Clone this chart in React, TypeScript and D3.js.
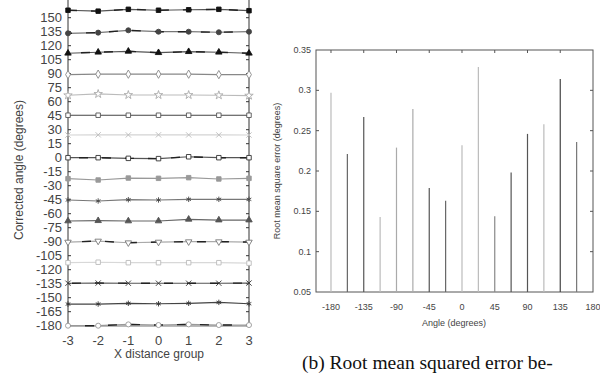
import React, { useEffect, useRef } from 'react'
import * as d3 from 'd3'

// left panel: corrected angle per x distance group, one line per true angle
const xGroups = [-3, -2, -1, 0, 1, 2, 3]
const trueAngles = [157.5, 135, 112.5, 90, 67.5, 45, 22.5, 0, -22.5, -45, -67.5, -90, -112.5, -135, -157.5, -180]
const correctedValues = [
  [158, 157, 159, 158, 158.5, 159, 157.5],
  [133.3, 134, 136.5, 135, 135, 134.4, 135],
  [111.9, 113, 114, 112.5, 113.6, 113, 111.9],
  [89, 89.5, 89.5, 89.5, 89.5, 89, 89],
  [66.9, 68.3, 67.2, 67.2, 67.2, 66.9, 66.5],
  [45.5, 45.5, 45.5, 45.5, 45.5, 45.5, 45.5],
  [24.3, 24.5, 24.4, 24.5, 24.4, 24.4, 24.3],
  [0, 0, -0.7, -1, 1, 0, 0],
  [-22.5, -23.9, -21.8, -22.1, -21.4, -22.8, -22.1],
  [-45.3, -46.4, -45, -45.3, -44.6, -44.6, -44.6],
  [-67.8, -67.5, -67.8, -67.8, -66, -66.8, -66.8],
  [-90.4, -89.3, -91.1, -90.4, -90, -90, -90.4],
  [-112.5, -112, -112.5, -112.5, -112.5, -112.5, -113],
  [-134.5, -134.3, -134.5, -134.5, -134.5, -134.5, -134.3],
  [-156.8, -156.8, -156, -156.5, -156, -155, -156.5],
  [-180, -180, -178.6, -179.3, -178.6, -179.3, -179.3],
]
const leftTicks = d3.range(-180, 151, 15)

// right panel: rmse per angle
const rmseAngles = [-180, -157.5, -135, -112.5, -90, -67.5, -45, -22.5, 0, 22.5, 45, 67.5, 90, 112.5, 135, 157.5]
const rmseValues = [0.297, 0.221, 0.267, 0.143, 0.229, 0.277, 0.179, 0.163, 0.232, 0.329, 0.144, 0.198, 0.246, 0.258, 0.314, 0.236]
const angleTicks = [-180, -135, -90, -45, 0, 45, 90, 135, 180]
const rmseTicks = [0.05, 0.1, 0.15, 0.2, 0.25, 0.3, 0.35]

// marker look for each series (shape, filled?, colour, line colour, dark dashes on top?)
const markers = [
  { shape: d3.symbolSquare, fill: true, color: '#111', line: '#555', dash: true },
  { shape: d3.symbolCircle, fill: true, color: '#444', line: '#777', dash: true },
  { shape: d3.symbolTriangle, fill: true, color: '#111', line: '#555', dash: true },
  { shape: d3.symbolDiamond, fill: false, color: '#888', line: '#888', dash: false },
  { shape: d3.symbolStar, fill: false, color: '#aaa', line: '#bbb', dash: false },
  { shape: d3.symbolSquare, fill: false, color: '#555', line: '#444', dash: false },
  { shape: d3.symbolTimes, fill: false, color: '#bbb', line: '#d4d4d4', dash: false },
  { shape: d3.symbolSquare, fill: false, color: '#333', line: '#555', dash: true },
  { shape: d3.symbolSquare, fill: true, color: '#999', line: '#999', dash: false },
  { shape: d3.symbolAsterisk, fill: false, color: '#444', line: '#777', dash: false },
  { shape: d3.symbolTriangle, fill: true, color: '#555', line: '#666', dash: false },
  { shape: d3.symbolTriangle, fill: false, color: '#777', line: '#aaa', dash: true, flip: true },
  { shape: d3.symbolSquare, fill: false, color: '#bbb', line: '#d8d8d8', dash: false },
  { shape: d3.symbolTimes, fill: false, color: '#333', line: '#555', dash: true },
  { shape: d3.symbolAsterisk, fill: false, color: '#333', line: '#444', dash: false },
  { shape: d3.symbolCircle, fill: false, color: '#999', line: '#999', dash: true },
]
const barColors = ['#bbb', '#666', '#555', '#bbb', '#aaa', '#aaa', '#555', '#666', '#bbb', '#bbb', '#888', '#555', '#555', '#bbb', '#444', '#777']

const font = 'Liberation Sans, Arial, sans-serif'
const textColor = '#444'

export default function App() {
  const ref = useRef<SVGSVGElement>(null)

  useEffect(() => {
    const svg = d3.select(ref.current)
    svg.selectAll('*').remove()

    // ---------- left chart ----------
    const xL = d3.scaleLinear().domain([-3, 3]).range([68, 249])
    const yL = d3.scaleLinear().domain([-180, 150]).range([325.7, 17.7])
    const left = svg.append('g')

    // axes frame
    left.append('line').attr('x1', 68).attr('x2', 68).attr('y1', 0).attr('y2', 326).attr('stroke', '#333')
    left.append('line').attr('x1', 249).attr('x2', 249).attr('y1', 0).attr('y2', 326).attr('stroke', '#333')
    left.append('line').attr('x1', 68).attr('x2', 249).attr('y1', 326).attr('y2', 326).attr('stroke', '#777')

    left.selectAll('.ltick')
      .data(leftTicks).enter().append('line')
      .attr('x1', 68).attr('x2', 71)
      .attr('y1', d => yL(d)).attr('y2', d => yL(d))
      .attr('stroke', '#333')
    left.selectAll('.rtick')
      .data(leftTicks).enter().append('line')
      .attr('x1', 246).attr('x2', 249)
      .attr('y1', d => yL(d)).attr('y2', d => yL(d))
      .attr('stroke', '#333')

    left.selectAll('.ylab')
      .data(leftTicks).enter().append('text')
      .attr('x', 62).attr('y', d => yL(d)).attr('dy', '0.36em')
      .attr('text-anchor', 'end')
      .attr('font-size', 13).attr('font-family', font).attr('fill', textColor)
      .text(d => d)

    left.selectAll('.xlab')
      .data(xGroups).enter().append('text')
      .attr('x', d => xL(d)).attr('y', 345)
      .attr('text-anchor', 'middle')
      .attr('font-size', 13).attr('font-family', font).attr('fill', textColor)
      .text(d => d)

    left.append('text')
      .attr('x', 159).attr('y', 358)
      .attr('text-anchor', 'middle')
      .attr('font-size', 12).attr('font-family', font).attr('fill', textColor)
      .text('X distance group')

    left.append('text')
      .attr('transform', 'translate(23,170) rotate(-90)')
      .attr('text-anchor', 'middle')
      .attr('font-size', 12).attr('font-family', font).attr('fill', textColor)
      .text('Corrected angle (degrees)')

    const line = d3.line<number>()
      .x((d, i) => xL(xGroups[i]))
      .y(d => yL(d))

    correctedValues.forEach((vals, si) => {
      const m: any = markers[si]
      const g = left.append('g').attr('class', 'series-' + trueAngles[si])
      g.append('path').attr('d', line(vals))
        .attr('fill', 'none').attr('stroke', m.line).attr('stroke-width', 1.2)
      if (m.dash) {
        g.append('path').attr('d', line(vals))
          .attr('fill', 'none').attr('stroke', '#222').attr('stroke-width', 1.4)
          .attr('stroke-dasharray', '9,14').attr('stroke-dashoffset', si * 5)
      }
      const size = m.shape === d3.symbolTriangle ? 18 : m.shape === d3.symbolStar ? 22 : 20
      const sym = d3.symbol().type(m.shape).size(size)
      g.selectAll('path.pt')
        .data(vals).enter().append('path')
        .attr('class', 'pt')
        .attr('transform', (d, i) => `translate(${xL(xGroups[i])},${yL(d)})${m.flip ? ' rotate(180)' : ''}`)
        .attr('d', sym())
        .attr('fill', m.fill ? m.color : '#fff')
        .attr('stroke', m.color)
        .attr('stroke-width', 0.9)
    })

    // ---------- right chart ----------
    const xR = d3.scaleLinear().domain([-200.6, 180]).range([316, 593])
    const yR = d3.scaleLinear().domain([0.05, 0.35]).range([292, 50])
    const right = svg.append('g')

    right.append('rect')
      .attr('x', 316).attr('y', 50).attr('width', 277).attr('height', 242)
      .attr('fill', 'none').attr('stroke', '#555')

    right.selectAll('.bar')
      .data(rmseValues).enter().append('line')
      .attr('x1', (d, i) => xR(rmseAngles[i])).attr('x2', (d, i) => xR(rmseAngles[i]))
      .attr('y1', yR(0.05)).attr('y2', d => yR(d))
      .attr('stroke', (d, i) => barColors[i]).attr('stroke-width', 1.2)

    right.selectAll('.ttick')
      .data(angleTicks.slice(0, -1)).enter().append('line')
      .attr('x1', d => xR(d)).attr('x2', d => xR(d))
      .attr('y1', 50).attr('y2', 53).attr('stroke', '#555')
    right.selectAll('.ytickl')
      .data(rmseTicks.slice(1, -1)).enter().append('line')
      .attr('x1', 316).attr('x2', 319)
      .attr('y1', d => yR(d)).attr('y2', d => yR(d)).attr('stroke', '#555')
    right.selectAll('.ytickr')
      .data(rmseTicks.slice(1, -1)).enter().append('line')
      .attr('x1', 590).attr('x2', 593)
      .attr('y1', d => yR(d)).attr('y2', d => yR(d)).attr('stroke', '#555')

    right.selectAll('.ylab')
      .data(rmseTicks).enter().append('text')
      .attr('x', 311).attr('y', d => yR(d)).attr('dy', '0.35em')
      .attr('text-anchor', 'end')
      .attr('font-size', 9).attr('font-family', font).attr('fill', textColor)
      .text(d => d)

    right.selectAll('.xlab')
      .data(angleTicks).enter().append('text')
      .attr('x', d => xR(d)).attr('y', 310)
      .attr('text-anchor', 'middle')
      .attr('font-size', 9).attr('font-family', font).attr('fill', textColor)
      .text(d => d)

    right.append('text')
      .attr('x', 454).attr('y', 326)
      .attr('text-anchor', 'middle')
      .attr('font-size', 9).attr('font-family', font).attr('fill', textColor)
      .text('Angle (degrees)')

    right.append('text')
      .attr('transform', 'translate(280,171) rotate(-90)')
      .attr('text-anchor', 'middle')
      .attr('font-size', 9).attr('font-family', font).attr('fill', textColor)
      .text('Root mean square error (degrees)')

    // caption
    svg.append('text')
      .attr('x', 302).attr('y', 369)
      .attr('font-size', 19.5).attr('font-family', 'Liberation Serif, Times New Roman, serif').attr('fill', '#111')
      .text('(b) Root mean squared error be-')
  }, [])

  return (
    <svg ref={ref} width={600} height={373}
      style={{ position: 'absolute', left: 0, top: 0, background: '#fff' }} />
  )
}
